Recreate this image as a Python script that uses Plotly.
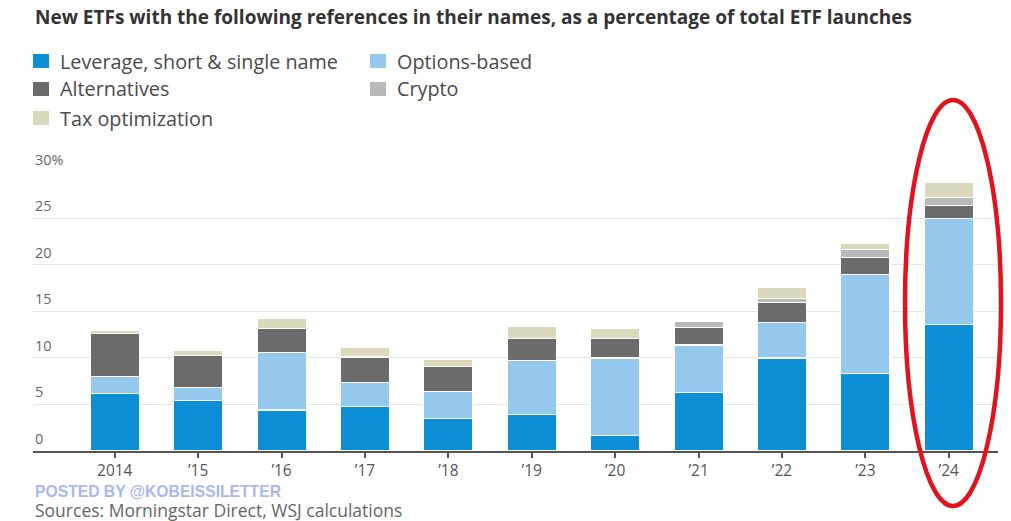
import plotly.graph_objects as go

years = ["2014", "’15", "’16", "’17", "’18", "’19", "’20", "’21", "’22", "’23", "’24"]
leverage = [6.2, 5.4, 4.4, 4.8, 3.5, 3.9, 1.7, 6.3, 10.0, 8.35, 13.6]
options = [1.8, 1.4, 6.2, 2.6, 2.9, 5.85, 8.3, 5.1, 3.8, 10.65, 11.4]
alternatives = [4.6, 3.5, 2.6, 2.7, 2.7, 2.35, 2.1, 1.9, 2.2, 1.8, 1.4]
crypto = [0, 0, 0, 0, 0, 0, 0, 0.6, 0.4, 0.9, 0.85]
tax = [0.4, 0.5, 1.1, 1.0, 0.8, 1.3, 1.1, 0, 1.2, 0.6, 1.65]

series = [
    ("Leverage, short & single name", leverage, "#0c8fd7"),
    ("Options-based", options, "#95c8ed"),
    ("Alternatives", alternatives, "#6b6b6b"),
    ("Crypto", crypto, "#b9b9b9"),
    ("Tax optimization", tax, "#dbd8bc"),
]
y_ticks = [0, 5, 10, 15, 20, 25, 30]
y_tick_labels = ["0", "5", "10", "15", "20", "25", "30%"]

W, H = 1011, 521
L, R, T, B = 33, 13, 171, 70
PW, PH = W - L - R, H - T - B


def px(x):
    return (x - L) / PW


def py(y):
    return 1 - (y - T) / PH


fig = go.Figure()
xs = list(range(len(years)))
for name, vals, col in series:
    fig.add_trace(go.Bar(
        x=xs, y=vals, name=name, marker=dict(color=col, line=dict(color="white", width=1.2)),
        showlegend=False,
    ))

annotations = []
shapes = []
# title
annotations.append(dict(
    text="<b>New ETFs with the following references in their names, as a percentage of total ETF launches</b>",
    xref="paper", yref="paper", x=px(33), y=py(17), xanchor="left", yanchor="middle",
    showarrow=False, font=dict(family="Open Sans", size=19, color="#333333")))

# legend
legend_pos = [(33, 61), (370, 61), (33, 89), (370, 89), (33, 118)]
for (name, vals, col), (lx, ly) in zip(series, legend_pos):
    shapes.append(dict(type="rect", xref="paper", yref="paper",
                       x0=px(lx), x1=px(lx + 16), y0=py(ly - 7), y1=py(ly + 7),
                       fillcolor=col, line=dict(width=0)))
    annotations.append(dict(text=name, xref="paper", yref="paper", x=px(lx + 25), y=py(ly),
                            xanchor="left", yanchor="middle", showarrow=False,
                            font=dict(family="Open Sans", size=19.8, color="#4a4a4a")))

# y labels above grid lines
for v, lab in zip(y_ticks, y_tick_labels):
    annotations.append(dict(text=lab, xref="paper", yref="y", x=0, y=v, xanchor="left",
                            yanchor="bottom", yshift=1, showarrow=False,
                            font=dict(family="Open Sans", size=14.5, color="#666666")))

# footer
annotations.append(dict(text="<b>POSTED BY @KOBEISSILETTER</b>", xref="paper", yref="paper",
                        x=px(33), y=py(491), xanchor="left", yanchor="middle", showarrow=False,
                        font=dict(family="Liberation Sans", size=15.7, color="#aab8ef")))
annotations.append(dict(text="Sources: Morningstar Direct, WSJ calculations", xref="paper", yref="paper",
                        x=px(33), y=py(510), xanchor="left", yanchor="middle", showarrow=False,
                        font=dict(family="Open Sans", size=17.5, color="#666666")))

# red ellipse highlight
shapes.append(dict(type="circle", xref="paper", yref="paper",
                   x0=px(905), x1=px(1001), y0=py(506), y1=py(100),
                   line=dict(color="#e1141d", width=4.5), fillcolor="rgba(0,0,0,0)"))

fig.update_layout(
    width=W, height=H, margin=dict(l=L, r=R, t=T, b=B),
    barmode="stack", bargap=0.41,
    plot_bgcolor="white", paper_bgcolor="white",
    annotations=annotations, shapes=shapes,
    xaxis=dict(range=[-0.98, 10.59], tickvals=xs, ticktext=years, showgrid=False,
               ticks="outside", ticklen=5, tickcolor="#555555", tickwidth=1.5,
               showline=True, linecolor="#555555", linewidth=1.5,
               tickfont=dict(family="Open Sans", size=15.5, color="#555555"), zeroline=False),
    yaxis=dict(range=[0, 30.1], tickvals=y_ticks, showticklabels=False, showgrid=True,
               gridcolor="#e4e4e4", gridwidth=1, zeroline=False, fixedrange=True),
)

fig.write_html("out.html")
